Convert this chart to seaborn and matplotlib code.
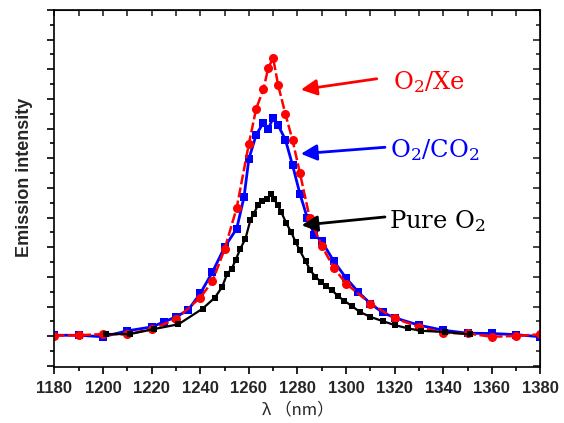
import numpy as np
import pandas as pd
import matplotlib
matplotlib.use("Agg")
import matplotlib.pyplot as plt
from matplotlib.ticker import MultipleLocator, NullFormatter
import seaborn as sns

# emission spectra (arbitrary units, baseline = 0)
xe_nm = [1180, 1190, 1200, 1210, 1220, 1230, 1240, 1245, 1250, 1255, 1260, 1263,
         1266, 1268, 1270, 1272, 1275, 1278, 1281, 1285, 1290, 1295, 1300, 1310,
         1320, 1330, 1340, 1350, 1360, 1370, 1380]
xe_int = [0.02, 0.03, 0.07, 0.06, 0.24, 0.57, 1.30, 1.85, 2.93, 4.33, 6.49, 7.67,
          8.33, 9.06, 9.37, 8.48, 7.50, 6.60, 5.50, 4.00, 3.04, 2.30, 1.77, 1.10,
          0.60, 0.31, 0.11, 0.09, -0.02, 0.01, 0.06]

co2_nm = [1180, 1190, 1200, 1210, 1220, 1225, 1230, 1235, 1240, 1245, 1250, 1255,
          1258, 1260, 1263, 1266, 1268, 1270, 1272, 1275, 1278, 1281, 1284, 1287,
          1290, 1295, 1300, 1305, 1310, 1315, 1320, 1330, 1340, 1350, 1360, 1370, 1380]
co2_int = [0.03, 0.03, -0.02, 0.18, 0.31, 0.48, 0.65, 0.88, 1.44, 2.16, 3.00, 3.63,
           4.69, 5.98, 6.79, 7.20, 7.00, 7.36, 7.12, 6.63, 5.76, 4.80, 4.00, 3.42,
           3.20, 2.52, 1.96, 1.49, 1.10, 0.80, 0.62, 0.37, 0.20, 0.10, 0.09, 0.05, -0.02]

o2_nm = [1201, 1211, 1221, 1231, 1241, 1246, 1249, 1251, 1253, 1254.5, 1256.5, 1258.6,
         1260.6, 1262, 1263.7, 1265.4, 1267.5, 1269.1, 1270.2, 1271.9, 1273.3, 1275.4,
         1277.4, 1279.2, 1280.9, 1283.3, 1285.3, 1287.4, 1289.7, 1291.8, 1294.2, 1296.7,
         1299.3, 1302.5, 1305.6, 1310, 1315.3, 1320.2, 1325.6, 1331, 1340.6, 1350.9]
o2_int = [0.07, 0.07, 0.24, 0.40, 0.93, 1.30, 1.66, 2.09, 2.28, 2.56, 2.95, 3.29,
          3.91, 4.13, 4.41, 4.56, 4.64, 4.78, 4.64, 4.41, 4.19, 3.81,
          3.51, 3.18, 2.90, 2.53, 2.22, 2.00, 1.83, 1.68, 1.55, 1.35,
          1.19, 1.01, 0.82, 0.65, 0.50, 0.37, 0.26, 0.18, 0.14, 0.06]

co2 = pd.DataFrame({"nm": co2_nm, "intensity": co2_int})
xe = pd.DataFrame({"nm": xe_nm, "intensity": xe_int})
o2 = pd.DataFrame({"nm": o2_nm, "intensity": o2_int})

sns.set_style("ticks")
plt.rcParams["mathtext.default"] = "regular"

fig = plt.figure(figsize=(5.64, 4.23), dpi=100)
ax = fig.add_axes([0.0966, 0.1324, 0.8617, 0.8440])

sns.lineplot(data=co2, x="nm", y="intensity", ax=ax, sort=False, estimator=None,
             color="#0000ff", lw=2.0, marker="s", markersize=6, markeredgewidth=0)
sns.lineplot(data=xe, x="nm", y="intensity", ax=ax, sort=False, estimator=None,
             color="#ff0000", lw=1.8, linestyle=(0, (4, 1.3)), marker="o",
             markersize=6.5, markeredgewidth=0)
sns.lineplot(data=o2, x="nm", y="intensity", ax=ax, sort=False, estimator=None,
             color="black", lw=1.6, marker="s", markersize=4.5, markeredgewidth=0)

ax.set_xlim(1180, 1380)
ax.set_ylim(-1.04, 11.0)
ax.xaxis.set_major_locator(MultipleLocator(20))
ax.xaxis.set_minor_locator(MultipleLocator(10))
ax.yaxis.set_major_locator(MultipleLocator(1))
ax.yaxis.set_minor_locator(MultipleLocator(0.5))
ax.yaxis.set_major_formatter(NullFormatter())
ax.tick_params(which="major", direction="out", length=5, width=1.2, color="black")
ax.tick_params(which="minor", direction="out", length=3, width=1.2, color="black")
ax.tick_params(axis="x", pad=5)
for lab in ax.get_xticklabels():
    lab.set_fontfamily("Liberation Sans")
    lab.set_fontweight("bold")
    lab.set_fontsize(12)
for sp in ax.spines.values():
    sp.set_linewidth(1.2)
    sp.set_color("black")

top = ax.secondary_xaxis("top")
top.xaxis.set_major_locator(MultipleLocator(20))
top.xaxis.set_minor_locator(MultipleLocator(10))
top.xaxis.set_major_formatter(NullFormatter())
top.tick_params(which="both", direction="in", length=4, width=1.2)
right = ax.secondary_yaxis("right")
right.yaxis.set_major_locator(MultipleLocator(1))
right.yaxis.set_minor_locator(MultipleLocator(0.5))
right.yaxis.set_major_formatter(NullFormatter())
right.tick_params(which="major", direction="in", length=5, width=1.2)
right.tick_params(which="minor", direction="in", length=3, width=1.2)

ax.set_xlabel("λ （nm）", family=["Noto Sans CJK JP", "DejaVu Sans"], fontsize=12)
ax.set_ylabel("Emission intensity", family="Liberation Sans", fontweight="bold", fontsize=13)
ax.xaxis.set_label_coords(0.5, -0.095)
ax.yaxis.set_label_coords(-0.045, 0.532)

# labels with arrows
labels = [("O$_2$/Xe", "#ff0000", (1312.6, 8.68), (1281.4, 8.31), (1319.3, 8.34)),
          ("O$_2$/CO$_2$", "#0000ff", (1316, 6.37), (1281.4, 6.15), (1318, 6.04)),
          ("Pure O$_2$", "black", (1316, 4.02), (1281.7, 3.74), (1317.7, 3.63))]
for txt, col, tail, tip, pos in labels:
    ax.annotate("", xy=tip, xytext=tail,
                arrowprops=dict(arrowstyle="-|>", color=col, lw=2, mutation_scale=24,
                                shrinkA=0, shrinkB=0))
    ax.text(pos[0], pos[1], txt, color=col, family="DejaVu Serif", fontsize=17.5,
            va="baseline", ha="left")

fig.savefig("out.png", dpi=100)
